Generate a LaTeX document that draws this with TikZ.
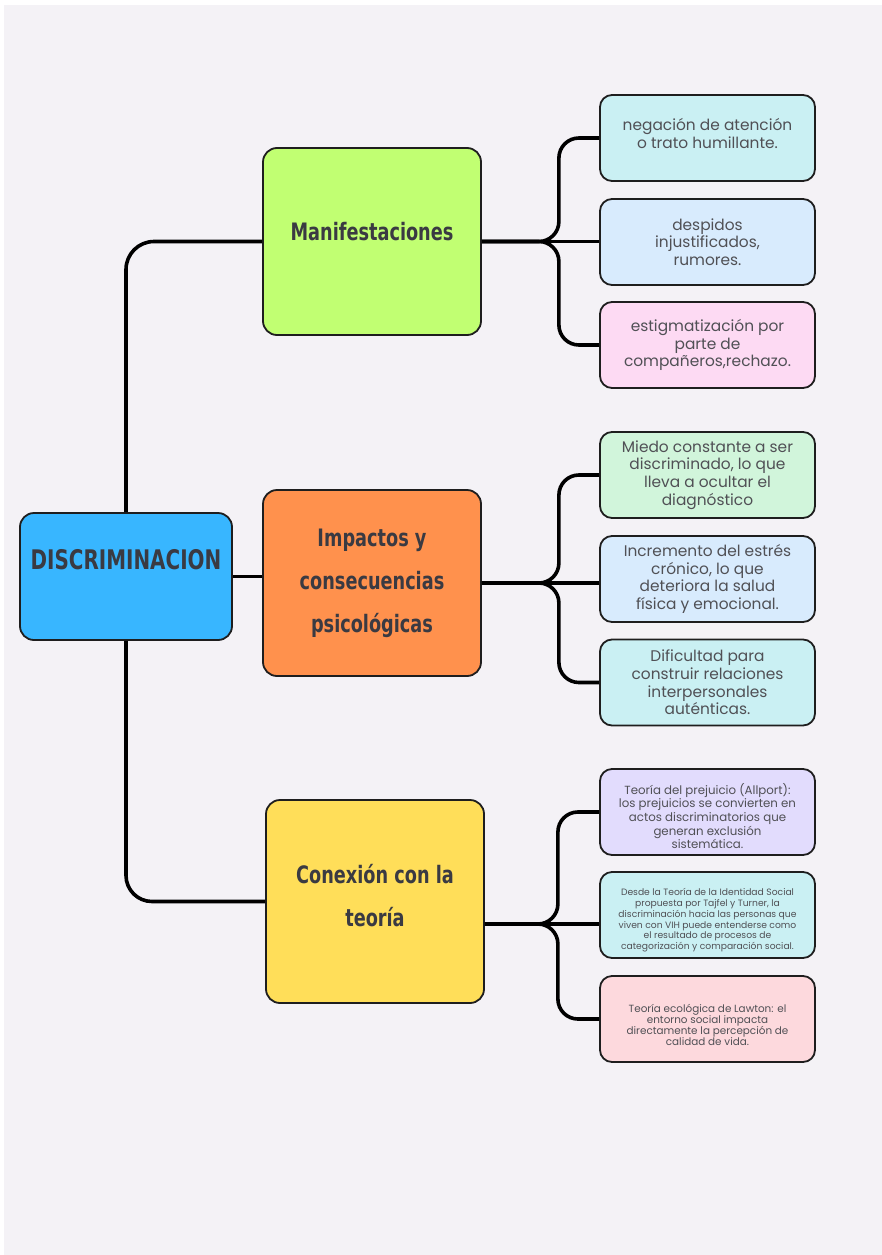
\documentclass[tikz,border=0pt]{standalone}
\usepackage{fontspec}
\setmainfont{Poppins}
\newfontfamily\headfont[FakeStretch=0.82]{DejaVu Sans Condensed}
\usetikzlibrary{calc}
\definecolor{cbg}{HTML}{F4F2F6}
\definecolor{cline}{HTML}{1E1E1E}
\definecolor{ctext}{HTML}{3A3A42}
\definecolor{cleaf}{HTML}{505055}
\definecolor{cdisc}{HTML}{38B6FF}
\definecolor{cmani}{HTML}{C1FF72}
\definecolor{cimpa}{HTML}{FF914D}
\definecolor{cconx}{HTML}{FFDE59}
\definecolor{ccyan}{HTML}{CAF0F3}
\definecolor{cblue}{HTML}{D8EBFD}
\definecolor{cpink}{HTML}{FDDAF3}
\definecolor{cgreen}{HTML}{D1F5DB}
\definecolor{clila}{HTML}{E2DCFD}
\definecolor{crose}{HTML}{FDD9DD}
\newcommand{\upstrut}[1]{\rule{0pt}{#1}}
\tikzset{
  box/.style={draw=cline, line width=1.8pt, rounded corners=14pt, align=center, inner sep=3pt},
  mainbox/.style={box, minimum width=218, text=ctext, font=\headfont\bfseries\fontsize{24}{43}\selectfont},
  leaf/.style={box, rounded corners=12pt, minimum width=215, minimum height=86, text=cleaf, font=\fontsize{15.4}{17.7}\selectfont},
  conn/.style={draw=black, line width=3.6pt, rounded corners=20pt}
}
\begin{document}
\begin{tikzpicture}[x=1pt, y=-1pt]
\fill[white] (0,0) rectangle (882,1255);
\fill[cbg] (4,5) rectangle (882,1255);
\useasboundingbox (0,0) rectangle (882,1255);
% nodos principales
\node[mainbox, fill=cdisc, minimum width=212, minimum height=127, text height=18pt, text depth=32pt, font=\headfont\bfseries\fontsize{27}{43}\selectfont] (disc) at (126,576.5) {DISCRIMINACION};
\node[mainbox, fill=cmani, minimum height=187, text height=18pt, text depth=20pt] (mani) at (372,241.5) {Manifestaciones};
\node[mainbox, fill=cimpa, minimum height=186] (impa) at (372,583) {Impactos y\\consecuencias\\psicológicas};
\node[mainbox, fill=cconx, minimum height=203, text depth=12pt] (conx) at (375,901.5) {Conexión con la\\teoría};
% hojas
\node[leaf, fill=ccyan] (m1) at (707.5,138) {negación de atención\\o trato humillante.\\[-8pt]};
\node[leaf, fill=cblue] (m2) at (707.5,242) {despidos\\injustificados,\\rumores.};
\node[leaf, fill=cpink] (m3) at (707.5,345) {estigmatización por\\parte de\\compañeros,rechazo.};
\node[leaf, fill=cgreen] (i1) at (707.5,475) {Miedo constante a ser\\discriminado, lo que\\lleva a ocultar el\\diagnóstico};
\node[leaf, fill=cblue] (i2) at (707.5,579) {Incremento del estrés\\crónico, lo que\\deteriora la salud\\física y emocional.};
\node[leaf, fill=ccyan] (i3) at (707.5,682.5) {Dificultad para\\construir relaciones\\interpersonales\\auténticas.};
\node[leaf, fill=clila, font=\fontsize{11.8}{13.7}\selectfont] (c1) at (707.5,812) {\upstrut{19pt}Teoría del prejuicio (Allport):\\los prejuicios se convierten en\\actos discriminatorios que\\generan exclusión\\sistemática.};
\node[leaf, fill=ccyan, font=\fontsize{9.2}{10.8}\selectfont] (c2) at (707.5,915) {\upstrut{18pt}Desde la Teoría de la Identidad Social\\propuesta por Tajfel y Turner, la\\discriminación hacia las personas que\\viven con VIH puede entenderse como\\el resultado de procesos de\\categorización y comparación social.};
\node[leaf, fill=crose, font=\fontsize{10.4}{11.2}\selectfont] (c3) at (707.5,1019) {\upstrut{20pt}Teoría ecológica de Lawton: el\\entorno social impacta\\directamente la percepción de\\calidad de vida.};
% tronco
\draw[conn, rounded corners=28pt] (disc.north) |- (mani.west);
\draw[conn] (disc.east) -- (disc.east -| impa.west);
\draw[conn, rounded corners=26pt] (disc.south) |- (conx.west);
% llaves
\coordinate (mj) at ($(mani.east)+(77,0)$);
\draw[conn] (mani.east) -- (mj) |- (m1.west);
\draw[conn] (mani.east) -- (mani.east -| m2.west);
\draw[conn] (mani.east) -- (mj) |- (m3.west);
\coordinate (ij) at ($(impa.east)+(77,0)$);
\draw[conn] (impa.east) -- (ij) |- (i1.west);
\draw[conn] (impa.east) -- (impa.east -| i2.west);
\draw[conn] (impa.east) -- (ij) |- (i3.west);
\coordinate (cs) at ($(conx.east)+(0,22.5)$);
\coordinate (cj) at ($(cs)+(73,0)$);
\draw[conn] (cs) -- (cj) |- (c1.west);
\draw[conn] (cs) -- (cs -| c2.west);
\draw[conn] (cs) -- (cj) |- (c3.west);
\end{tikzpicture}
\end{document}
